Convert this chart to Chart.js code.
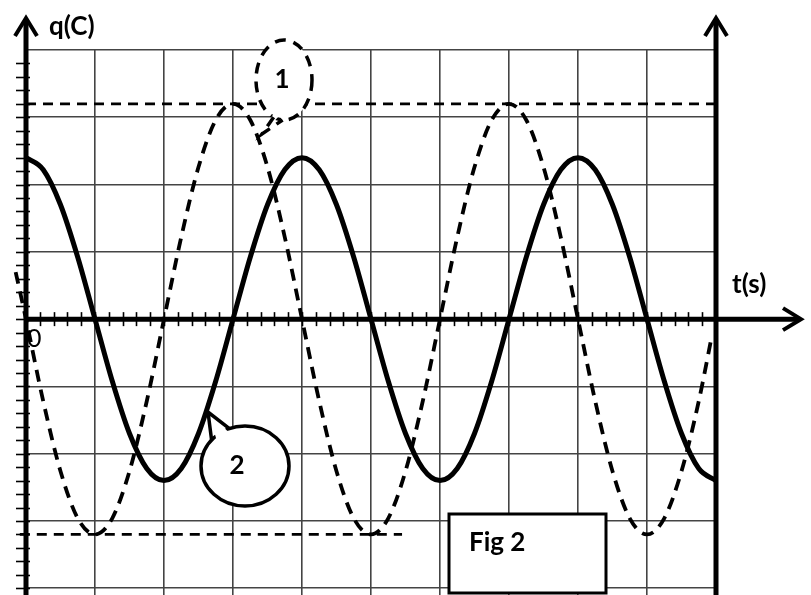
<!DOCTYPE html>
<html>
<head>
<meta charset="utf-8">
<script src="https://cdn.jsdelivr.net/npm/chart.js@4/dist/chart.umd.min.js"></script>
<style>
  html, body { margin: 0; padding: 0; background: #fff; }
  #c { display: block; }
</style>
</head>
<body>
<canvas id="c" width="811" height="595"></canvas>
<script>
// time in grid divisions, q in grid divisions
const T = [0,0.25,0.5,0.75,1,1.25,1.5,1.75,2,2.25,2.5,2.75,3,3.25,3.5,3.75,4,4.25,4.5,4.75,5,
           5.25,5.5,5.75,6,6.25,6.5,6.75,7,7.25,7.5,7.75,8,8.25,8.5,8.75,9,9.25,9.5,9.75,10];

// curve 2 (solid)
const Q2 = [2.4,2.22,1.7,0.92,0,-0.92,-1.7,-2.22,-2.4,-2.22,-1.7,-0.92,0,0.92,1.7,2.22,
            2.4,2.22,1.7,0.92,0,-0.92,-1.7,-2.22,-2.4,-2.22,-1.7,-0.92,0,0.92,1.7,2.22,
            2.4,2.22,1.7,0.92,0,-0.92,-1.7,-2.22,-2.4];

// curve 1 (dashed) - starts a bit left of the q axis, stops just before the right edge
const T1 = [-0.15,0,0.25,0.5,0.75,1,1.25,1.5,1.75,2,2.25,2.5,2.75,3,3.25,3.5,3.75,4,4.25,4.5,4.75,5,
            5.25,5.5,5.75,6,6.25,6.5,6.75,7,7.25,7.5,7.75,8,8.25,8.5,8.75,9,9.25,9.5,9.75,9.93];
const Q1 = [0.7,0,-1.22,-2.26,-2.96,-3.2,-2.96,-2.26,-1.22,0,1.22,2.26,2.96,3.2,2.96,2.26,1.22,
            0,-1.22,-2.26,-2.96,-3.2,-2.96,-2.26,-1.22,0,1.22,2.26,2.96,3.2,2.96,2.26,1.22,
            0,-1.22,-2.26,-2.96,-3.2,-2.96,-2.26,-1.22,-0.3];

// dashed amplitude markers
const TOP_X = [0, 10.06], TOP_Q = [3.2, 3.2];
const BOT_X = [-0.09, 5.45], BOT_Q = [-3.2, -3.2];

const pts = (xs, ys) => xs.map((x, i) => ({ x, y: ys[i] }));

const INK = "#000";
const LABEL_FONT = "bold 26px Lato";

function bubble(ctx, cx, cy, rx, ry, tip, a1, a2, dash) {
  const b1 = { x: cx + rx * Math.cos(a1), y: cy + ry * Math.sin(a1) };
  const b2 = { x: cx + rx * Math.cos(a2), y: cy + ry * Math.sin(a2) };
  ctx.save();
  ctx.lineWidth = 3.5;
  ctx.strokeStyle = INK;
  ctx.fillStyle = "#fff";
  ctx.setLineDash(dash);
  ctx.beginPath();
  ctx.ellipse(cx, cy, rx, ry, 0, 0, Math.PI * 2);
  ctx.fill();
  ctx.stroke();
  // cover the arc under the tail
  ctx.setLineDash([]);
  ctx.beginPath();
  ctx.moveTo(cx + (b1.x - cx) * 0.8, cy + (b1.y - cy) * 0.8);
  ctx.lineTo(tip.x, tip.y);
  ctx.lineTo(cx + (b2.x - cx) * 0.8, cy + (b2.y - cy) * 0.8);
  ctx.closePath();
  ctx.fill();
  ctx.setLineDash(dash);
  ctx.beginPath();
  ctx.moveTo(b1.x, b1.y);
  ctx.lineTo(tip.x, tip.y);
  ctx.lineTo(b2.x, b2.y);
  ctx.stroke();
  ctx.restore();
}

const scopePlugin = {
  id: "scope",
  beforeDraw(chart) {
    const ctx = chart.ctx;
    ctx.save();
    ctx.fillStyle = "#fff";
    ctx.fillRect(0, 0, chart.width, chart.height);
    ctx.restore();
  },
  beforeDatasetsDraw(chart) {
    const { ctx, scales: { x, y } } = chart;
    const x0 = x.getPixelForValue(0);
    const x1 = x.getPixelForValue(10);
    const y0 = y.getPixelForValue(0);
    const yb = chart.height;

    ctx.save();
    ctx.strokeStyle = INK;
    ctx.lineCap = "butt";

    // minor ticks on q axis
    ctx.lineWidth = 1.6;
    for (let k = -20; k <= 19; k++) {
      const py = Math.round(y.getPixelForValue(k * 0.2)) + 0.5;
      ctx.beginPath();
      ctx.moveTo(x0 - 10, py);
      ctx.lineTo(x0 + 4, py);
      ctx.stroke();
    }
    // minor ticks on t axis
    for (let k = 1; k < 50; k++) {
      const px = Math.round(x.getPixelForValue(k * 0.2)) + 0.5;
      ctx.beginPath();
      ctx.moveTo(px, y0 - 7);
      ctx.lineTo(px, y0 + 7);
      ctx.stroke();
    }

    // thick axes
    ctx.lineWidth = 5;
    ctx.beginPath();
    ctx.moveTo(x0, yb); ctx.lineTo(x0, 19);
    ctx.moveTo(x1, yb); ctx.lineTo(x1, 19);
    ctx.moveTo(x0, y0); ctx.lineTo(798, y0);
    ctx.stroke();

    // arrow heads
    ctx.lineWidth = 4;
    ctx.lineJoin = "miter";
    ctx.beginPath();
    ctx.moveTo(x0 - 11, 36); ctx.lineTo(x0, 18); ctx.lineTo(x0 + 11, 36);
    ctx.moveTo(x1 - 11, 36); ctx.lineTo(x1, 18); ctx.lineTo(x1 + 11, 36);
    ctx.moveTo(783, y0 - 11); ctx.lineTo(801, y0); ctx.lineTo(783, y0 + 11);
    ctx.stroke();
    ctx.restore();
  },
  afterDatasetsDraw(chart) {
    const { ctx } = chart;
    ctx.save();

    // speech bubbles
    bubble(ctx, 284, 80, 28, 40, { x: 262, y: 134 }, 1.95, 1.62, [11, 8]);
    bubble(ctx, 245, 466, 44, 40, { x: 208, y: 412 }, 3.85, 4.35, []);

    // Fig 2 box
    ctx.fillStyle = "#fff";
    ctx.fillRect(449, 514, 157, 79);
    ctx.lineWidth = 3;
    ctx.strokeStyle = INK;
    ctx.strokeRect(449, 514, 157, 79);

    ctx.fillStyle = INK;
    ctx.textBaseline = "middle";
    ctx.textAlign = "left";
    ctx.font = LABEL_FONT;
    ctx.fillText("q(C)", 49, 27);
    ctx.fillText("t(s)", 732, 285);
    ctx.fillText("Fig 2", 469, 543);
    ctx.textAlign = "center";
    ctx.fillText("1", 282, 80);
    ctx.fillText("2", 237, 466);
    ctx.textAlign = "left";
    ctx.font = "25px Lato";
    ctx.fillText("0", 27, 339);
    ctx.restore();
  }
};

new Chart(document.getElementById("c"), {
  type: "line",
  data: {
    datasets: [
      { data: pts(TOP_X, TOP_Q), borderColor: INK, borderWidth: 2.8, borderDash: [10, 7], pointRadius: 0, clip: false, tension: 0 },
      { data: pts(BOT_X, BOT_Q), borderColor: INK, borderWidth: 2.8, borderDash: [10, 7], pointRadius: 0, clip: false, tension: 0 },
      { data: pts(T1, Q1), borderColor: INK, borderWidth: 3.8, borderDash: [12, 8], pointRadius: 0, clip: false, cubicInterpolationMode: "monotone" },
      { data: pts(T, Q2), borderColor: INK, borderWidth: 5, pointRadius: 0, clip: false, cubicInterpolationMode: "monotone" }
    ]
  },
  options: {
    responsive: false,
    animation: false,
    devicePixelRatio: 1,
    layout: { padding: { left: 26, right: 95, top: 50, bottom: 0 } },
    plugins: { legend: { display: false }, tooltip: { enabled: false } },
    scales: {
      x: {
        type: "linear", min: 0, max: 10,
        ticks: { display: false, stepSize: 1 },
        grid: { color: "#444", lineWidth: 1.6, drawTicks: false },
        border: { display: false }
      },
      y: {
        type: "linear", min: -4.1, max: 4,
        ticks: { display: false, stepSize: 1, includeBounds: false },
        grid: { color: "#444", lineWidth: 1.6, drawTicks: false },
        border: { display: false }
      }
    }
  },
  plugins: [scopePlugin]
});
</script>
</body>
</html>
